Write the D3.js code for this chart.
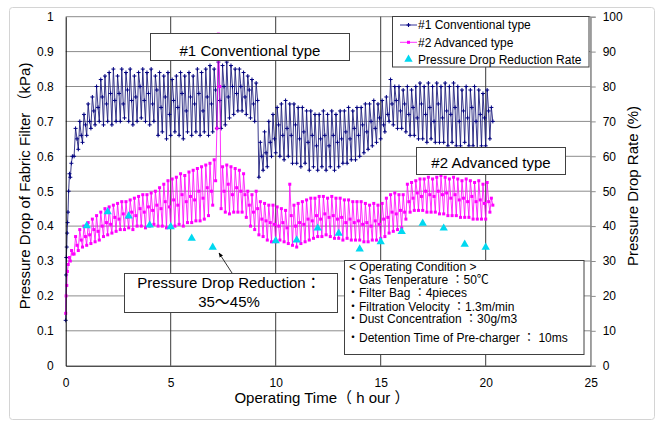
<!DOCTYPE html>
<html>
<head>
<meta charset="utf-8">
<script src="https://cdn.jsdelivr.net/npm/d3@7/dist/d3.min.js"></script>
<style>
	body { margin: 0; background: #fff; }
	svg text { font-family: "Liberation Sans", Arial, "Noto Sans CJK JP", sans-serif; fill: #000; }
</style>
</head>
<body>
<script>
var SIZE = { width: 659, height: 421 };
var PLOT = { left: 65.7, right: 590.7, top: 16.7, bottom: 365.7 };

var xTicks = [0, 5, 10, 15, 20, 25];
var yTicks = [0, 0.1, 0.2, 0.3, 0.4, 0.5, 0.6, 0.7, 0.8, 0.9, 1];
var yTickLabels = ['0', '0.1', '0.2', '0.3', '0.4', '0.5', '0.6', '0.7', '0.8', '0.9', '1'];
var rateTicks = [0, 10, 20, 30, 40, 50, 60, 70, 80, 90, 100];

// logging: start-up points, then per pulse cycle a low, a peak and an intermediate reading
var CYCLE_START = 0.4;
var CYCLE_STEP = 0.2;
var CYCLE_OFFSETS = [0, 0.07, 0.14];

var conventionalStartHours = [0, 0.02, 0.03, 0.05, 0.07, 0.09, 0.11, 0.14, 0.18, 0.22, 0.27, 0.32];
var conventionalStart = [0.13, 0.26, 0.31, 0.34, 0.38, 0.41, 0.44, 0.50, 0.55, 0.54, 0.58, 0.60];
var conventionalLow = [
	0.60, 0.62, 0.64, 0.66, 0.68, 0.69, 0.70, 0.69, 0.70, 0.69,
	0.70, 0.70, 0.71, 0.70, 0.69, 0.70, 0.71, 0.70, 0.69, 0.70,
	0.66, 0.67, 0.65, 0.66, 0.67, 0.66, 0.65, 0.67, 0.66, 0.67,
	0.66, 0.67, 0.66, 0.67, 0.68, 0.68, 0.69, 0.71, 0.72, 0.73,
	0.73, 0.72, 0.71, 0.70, 0.54, 0.56, 0.57, 0.60, 0.61, 0.60,
	0.59, 0.60, 0.58, 0.58, 0.57, 0.58, 0.56, 0.57, 0.56, 0.57,
	0.56, 0.57, 0.56, 0.57, 0.58, 0.58, 0.59, 0.59, 0.60, 0.61,
	0.62, 0.63, 0.64, 0.65, 0.67, 0.70, 0.69, 0.68, 0.68, 0.67,
	0.66, 0.66, 0.65, 0.65, 0.64, 0.65, 0.64, 0.64, 0.64, 0.63,
	0.64, 0.63, 0.63, 0.64, 0.63, 0.63, 0.62, 0.63, 0.63, 0.65
];
var conventionalHigh = [
	0.68, 0.70, 0.72, 0.75, 0.77, 0.80, 0.82, 0.83, 0.84, 0.85,
	0.83, 0.85, 0.84, 0.85, 0.83, 0.84, 0.85, 0.84, 0.85, 0.83,
	0.84, 0.83, 0.84, 0.82, 0.83, 0.84, 0.83, 0.84, 0.83, 0.85,
	0.84, 0.85, 0.86, 0.85, 0.87, 0.86, 0.87, 0.86, 0.85, 0.85,
	0.84, 0.83, 0.82, 0.81, 0.64, 0.67, 0.70, 0.72, 0.74, 0.75,
	0.76, 0.75, 0.75, 0.74, 0.74, 0.73, 0.73, 0.72, 0.72, 0.73,
	0.72, 0.73, 0.72, 0.73, 0.73, 0.74, 0.73, 0.74, 0.74, 0.75,
	0.75, 0.76, 0.75, 0.76, 0.77, 0.82, 0.80, 0.80, 0.79, 0.80,
	0.79, 0.80, 0.81, 0.80, 0.81, 0.80, 0.81, 0.80, 0.81, 0.80,
	0.81, 0.80, 0.79, 0.80, 0.79, 0.80, 0.79, 0.78, 0.79, 0.74
];
var conventionalMid = [
	0.65, 0.66, 0.69, 0.70, 0.73, 0.74, 0.77, 0.75, 0.78, 0.76,
	0.78, 0.75, 0.79, 0.76, 0.77, 0.80, 0.76, 0.78, 0.75, 0.79,
	0.74, 0.77, 0.72, 0.76, 0.74, 0.78, 0.73, 0.77, 0.75, 0.78,
	0.73, 0.77, 0.75, 0.79, 0.76, 0.80, 0.77, 0.80, 0.78, 0.80,
	0.77, 0.79, 0.75, 0.76, 0.60, 0.61, 0.64, 0.65, 0.69, 0.66,
	0.68, 0.66, 0.69, 0.65, 0.67, 0.64, 0.66, 0.63, 0.65, 0.66,
	0.63, 0.66, 0.64, 0.65, 0.67, 0.65, 0.68, 0.66, 0.69, 0.67,
	0.70, 0.68, 0.71, 0.69, 0.72, 0.75, 0.76, 0.73, 0.75, 0.72,
	0.74, 0.71, 0.75, 0.72, 0.74, 0.70, 0.75, 0.71, 0.73, 0.72,
	0.74, 0.70, 0.73, 0.71, 0.74, 0.70, 0.72, 0.71, 0.73, 0.70
];

var advancedStartHours = [0, 0.02, 0.05, 0.08, 0.12, 0.17, 0.22, 0.28, 0.34];
var advancedStart = [0.15, 0.20, 0.23, 0.27, 0.29, 0.31, 0.30, 0.33, 0.32];
var advancedLow = [
	0.32, 0.33, 0.34, 0.345, 0.35, 0.355, 0.36, 0.37, 0.375, 0.38,
	0.385, 0.39, 0.39, 0.395, 0.39, 0.40, 0.40, 0.395, 0.40, 0.405,
	0.40, 0.40, 0.395, 0.40, 0.40, 0.405, 0.40, 0.41, 0.41, 0.415,
	0.415, 0.42, 0.43, 0.46, 0.68, 0.45, 0.44, 0.435, 0.44, 0.44,
	0.44, 0.425, 0.40, 0.39, 0.375, 0.37, 0.36, 0.355, 0.355, 0.36,
	0.355, 0.35, 0.345, 0.34, 0.35, 0.355, 0.36, 0.365, 0.37, 0.37,
	0.375, 0.37, 0.365, 0.365, 0.36, 0.365, 0.36, 0.36, 0.36, 0.355,
	0.355, 0.36, 0.36, 0.365, 0.37, 0.38, 0.385, 0.39, 0.395, 0.42,
	0.44, 0.445, 0.445, 0.445, 0.44, 0.44, 0.44, 0.435, 0.435, 0.43,
	0.43, 0.43, 0.425, 0.425, 0.425, 0.42, 0.42, 0.42, 0.42, 0.44
];
var advancedHigh = [
	0.37, 0.39, 0.40, 0.41, 0.42, 0.43, 0.44, 0.45, 0.455, 0.46,
	0.465, 0.47, 0.47, 0.475, 0.48, 0.485, 0.49, 0.49, 0.495, 0.50,
	0.51, 0.52, 0.53, 0.535, 0.54, 0.55, 0.545, 0.555, 0.56, 0.565,
	0.57, 0.575, 0.58, 0.59, 0.95, 0.57, 0.575, 0.57, 0.565, 0.56,
	0.55, 0.50, 0.49, 0.50, 0.47, 0.465, 0.46, 0.46, 0.455, 0.45,
	0.445, 0.52, 0.46, 0.465, 0.47, 0.475, 0.48, 0.48, 0.485, 0.485,
	0.48, 0.485, 0.48, 0.48, 0.475, 0.475, 0.47, 0.47, 0.47, 0.465,
	0.46, 0.465, 0.46, 0.465, 0.48, 0.49, 0.495, 0.49, 0.49, 0.52,
	0.525, 0.53, 0.535, 0.535, 0.54, 0.535, 0.54, 0.545, 0.54, 0.535,
	0.54, 0.535, 0.53, 0.535, 0.53, 0.525, 0.53, 0.52, 0.525, 0.48
];
var advancedMid = [
	0.345, 0.36, 0.37, 0.375, 0.39, 0.385, 0.40, 0.41, 0.405, 0.425,
	0.42, 0.435, 0.425, 0.44, 0.43, 0.45, 0.44, 0.455, 0.445, 0.46,
	0.45, 0.47, 0.455, 0.475, 0.46, 0.49, 0.47, 0.485, 0.475, 0.50,
	0.48, 0.51, 0.50, 0.53, 0.80, 0.50, 0.52, 0.49, 0.51, 0.50,
	0.49, 0.46, 0.44, 0.45, 0.42, 0.415, 0.41, 0.405, 0.40, 0.41,
	0.395, 0.43, 0.40, 0.41, 0.405, 0.42, 0.415, 0.43, 0.42, 0.435,
	0.425, 0.43, 0.42, 0.425, 0.41, 0.42, 0.41, 0.415, 0.405, 0.41,
	0.40, 0.415, 0.405, 0.42, 0.425, 0.44, 0.435, 0.445, 0.44, 0.47,
	0.48, 0.495, 0.485, 0.50, 0.49, 0.485, 0.50, 0.49, 0.495, 0.48,
	0.49, 0.475, 0.48, 0.47, 0.485, 0.47, 0.475, 0.465, 0.47, 0.46
];

var reductionHours = [1, 2, 3, 4, 5, 6, 7, 10, 11, 12, 13, 14, 15, 16, 17, 18, 19, 20];
var reductionRate = [40.1, 44.1, 42.9, 40.3, 39.8, 36.5, 33.9, 35.8, 36.0, 39.4, 37.9, 33.4, 35.5, 38.4, 40.8, 39.4, 34.8, 33.9];

var legendNames = ['#1 Conventional type', '#2 Advanced type', 'Pressure Drop Reduction Rate'];
var conditionTitle = '< Operating Condition >';
var conditionLines = [
	'Gas Tenperature ：50℃',
	'Filter Bag ：4pieces',
	'Filtration Velocity ：1.3m/min',
	'Dust Concentration ：30g/m3',
	'Detention Time of Pre-charger ：  10ms'
];

var COLORS = { conventional: '#000080', advanced: '#ff00ff', rate: '#00d8f0' };

drawChart();

function buildSeries(startHours, startValues, lows, highs, mids) {
	var points = startHours.map(function (t, i) { return { t: t, v: startValues[i] }; });
	lows.forEach(function (low, i) {
		var t = CYCLE_START + i * CYCLE_STEP;
		[low, highs[i], mids[i]].forEach(function (v, k) {
			points.push({ t: t + CYCLE_OFFSETS[k], v: v });
		});
	});
	return points;
}

function drawChart() {
	var svg = d3.select('body').append('svg')
		.attr('width', SIZE.width)
		.attr('height', SIZE.height);

	svg.append('rect')
		.attr('x', 9.5).attr('y', 7.5)
		.attr('width', 645).attr('height', 412)
		.attr('rx', 3)
		.attr('fill', '#fff')
		.attr('stroke', '#d4d4d4');

	var x = d3.scaleLinear().domain([0, 25]).range([PLOT.left, PLOT.right]);
	var y = d3.scaleLinear().domain([0, 1]).range([PLOT.bottom, PLOT.top]);
	var yRate = d3.scaleLinear().domain([0, 100]).range([PLOT.bottom, PLOT.top]);

	// grid
	svg.append('g').selectAll('line')
		.data(yTicks.slice(1))
		.enter().append('line')
		.attr('x1', PLOT.left).attr('x2', PLOT.right)
		.attr('y1', function (d) { return y(d); }).attr('y2', function (d) { return y(d); })
		.attr('stroke', '#8c8c8c');
	svg.append('g').selectAll('line')
		.data(xTicks.slice(1))
		.enter().append('line')
		.attr('y1', PLOT.top).attr('y2', PLOT.bottom)
		.attr('x1', function (d) { return x(d); }).attr('x2', function (d) { return x(d); })
		.attr('stroke', function (d) { return d === 25 ? '#8c8c8c' : '#3a3a3a'; });

	var line = d3.line()
		.x(function (d) { return x(d.t); })
		.y(function (d) { return y(d.v); });

	var conventional = buildSeries(conventionalStartHours, conventionalStart, conventionalLow, conventionalHigh, conventionalMid);
	var advanced = buildSeries(advancedStartHours, advancedStart, advancedLow, advancedHigh, advancedMid);

	svg.append('path')
		.datum(conventional)
		.attr('d', line)
		.attr('fill', 'none')
		.attr('stroke', '#23237f')
		.attr('stroke-width', 0.9);
	var plus = svg.append('g')
		.attr('stroke', COLORS.conventional)
		.attr('stroke-width', 1)
		.selectAll('g')
		.data(conventional)
		.enter().append('g')
		.attr('transform', function (d) { return 'translate(' + x(d.t) + ',' + y(d.v) + ')'; });
	plus.append('line').attr('x1', -2).attr('x2', 2).attr('y1', 0).attr('y2', 0);
	plus.append('line').attr('x1', 0).attr('x2', 0).attr('y1', -2).attr('y2', 2);

	svg.append('path')
		.datum(advanced)
		.attr('d', line)
		.attr('fill', 'none')
		.attr('stroke', COLORS.advanced)
		.attr('stroke-width', 0.8);
	svg.append('g').selectAll('rect')
		.data(advanced)
		.enter().append('rect')
		.attr('x', function (d) { return x(d.t) - 1.5; })
		.attr('y', function (d) { return y(d.v) - 1.5; })
		.attr('width', 3).attr('height', 3)
		.attr('fill', COLORS.advanced);

	var triangle = d3.symbol().type(d3.symbolTriangle).size(30);
	svg.append('g').selectAll('path')
		.data(reductionHours)
		.enter().append('path')
		.attr('d', triangle)
		.attr('transform', function (d, i) { return 'translate(' + x(d) + ',' + yRate(reductionRate[i]) + ')'; })
		.attr('fill', COLORS.rate);

	// axes
	var xAxis = svg.append('g')
		.attr('transform', 'translate(0,' + PLOT.bottom + ')')
		.call(d3.axisBottom(x).tickValues(xTicks).tickSize(0).tickPadding(13));
	var yAxis = svg.append('g')
		.attr('transform', 'translate(' + PLOT.left + ',0)')
		.call(d3.axisLeft(y).tickValues(yTicks).tickFormat(function (d, i) { return yTickLabels[i]; }).tickSize(0).tickPadding(12));
	var rAxis = svg.append('g')
		.attr('transform', 'translate(' + PLOT.right + ',0)')
		.call(d3.axisRight(yRate).tickValues(rateTicks).tickSize(5).tickPadding(7));
	[xAxis, yAxis, rAxis].forEach(function (a) {
		a.selectAll('text').style('font-size', '12px').style('font-family', '"Liberation Sans", Arial, sans-serif');
	});
	xAxis.select('.domain').attr('stroke', '#000');
	yAxis.select('.domain').attr('stroke', '#000');
	rAxis.select('.domain').attr('stroke', '#8c8c8c');
	rAxis.selectAll('.tick line').attr('stroke', '#8c8c8c');

	svg.append('text')
		.attr('x', 322).attr('y', 403)
		.attr('text-anchor', 'middle')
		.style('font-size', '15px')
		.text('Operating Time（ h our ）');
	svg.append('text')
		.attr('transform', 'translate(30,186) rotate(-90)')
		.attr('text-anchor', 'middle')
		.style('font-size', '15px')
		.text('Pressure Drop of Fabric Filter （kPa)');
	svg.append('text')
		.attr('transform', 'translate(638,186) rotate(-90)')
		.attr('text-anchor', 'middle')
		.style('font-size', '15px')
		.text('Pressure Drop Rate (%)');

	// annotation boxes
	annotationBox(svg, 150.5, 33.5, 199, 27, ['#1 Conventional type'], 250, [55.5]);
	annotationBox(svg, 416.5, 147.5, 149, 27, ['#2 Advanced type'], 491, [168]);
	annotationBox(svg, 124.5, 273.5, 213, 39, ['Pressure Drop Reduction：', '35～45%'], 229, [288, 306.5]);

	svg.append('defs').append('marker')
		.attr('id', 'arrow')
		.attr('viewBox', '0 0 10 10')
		.attr('refX', 9).attr('refY', 5)
		.attr('markerWidth', 6).attr('markerHeight', 6)
		.attr('orient', 'auto')
		.append('path').attr('d', 'M0,1 L10,5 L0,9 z').attr('fill', '#000');
	svg.append('line')
		.attr('x1', 232).attr('y1', 273)
		.attr('x2', x(7.3)).attr('y2', yRate(32.3))
		.attr('stroke', '#000')
		.attr('stroke-width', 0.8)
		.attr('marker-end', 'url(#arrow)');

	var cond = svg.append('g');
	cond.append('rect')
		.attr('x', 344.5).attr('y', 260.5)
		.attr('width', 239.5).attr('height', 94)
		.attr('fill', '#fff').attr('stroke', '#404040');
	cond.append('text')
		.attr('x', 349).attr('y', 270.5)
		.style('font-size', '12px')
		.text(conditionTitle);
	var condBaselines = [284, 297, 310.5, 323, 341.5];
	cond.selectAll('text.bullet')
		.data(conditionLines)
		.enter().append('text')
		.attr('class', 'bullet')
		.attr('x', 347)
		.attr('y', function (d, i) { return condBaselines[i]; })
		.style('font-size', '12px')
		.text('・');
	cond.selectAll('text.item')
		.data(conditionLines)
		.enter().append('text')
		.attr('class', 'item')
		.attr('x', 359)
		.attr('y', function (d, i) { return condBaselines[i]; })
		.style('font-size', '12px')
		.text(function (d) { return d; });

	// legend
	var legend = svg.append('g');
	legend.append('rect')
		.attr('x', 392.5).attr('y', 16.5)
		.attr('width', 196.5).attr('height', 50.5)
		.attr('fill', '#fff').attr('stroke', '#404040');
	var legendY = [25, 42.3, 59.3];
	var items = legend.selectAll('g.item')
		.data(legendNames)
		.enter().append('g')
		.attr('transform', function (d, i) { return 'translate(0,' + legendY[i] + ')'; });
	items.append('text')
		.attr('x', 418).attr('y', 4.3)
		.style('font-size', '12px')
		.text(function (d) { return d; });
	items.filter(function (d, i) { return i < 2; }).append('line')
		.attr('x1', 400).attr('x2', 417).attr('y1', 0).attr('y2', 0)
		.attr('stroke', function (d, i) { return i === 0 ? COLORS.conventional : COLORS.advanced; })
		.attr('stroke-width', 0.8);
	var legendPlus = items.filter(function (d, i) { return i === 0; }).append('g')
		.attr('stroke', COLORS.conventional).attr('stroke-width', 1.1);
	legendPlus.append('line').attr('x1', 406.5).attr('x2', 410.5).attr('y1', 0).attr('y2', 0);
	legendPlus.append('line').attr('x1', 408.5).attr('x2', 408.5).attr('y1', -2).attr('y2', 2);
	items.filter(function (d, i) { return i === 1; }).append('rect')
		.attr('x', 407).attr('y', -1.5).attr('width', 3).attr('height', 3)
		.attr('fill', COLORS.advanced);
	items.filter(function (d, i) { return i === 2; }).append('path')
		.attr('d', triangle)
		.attr('transform', 'translate(408.5,0)')
		.attr('fill', COLORS.rate);
}

function annotationBox(svg, bx, by, bw, bh, lines, cx, baselines) {
	var g = svg.append('g');
	g.append('rect')
		.attr('x', bx).attr('y', by)
		.attr('width', bw).attr('height', bh)
		.attr('fill', '#fff').attr('stroke', '#404040');
	g.selectAll('text')
		.data(lines)
		.enter().append('text')
		.attr('x', cx)
		.attr('y', function (d, i) { return baselines[i]; })
		.attr('text-anchor', 'middle')
		.style('font-size', '15px')
		.text(function (d) { return d; });
}
</script>
</body>
</html>
